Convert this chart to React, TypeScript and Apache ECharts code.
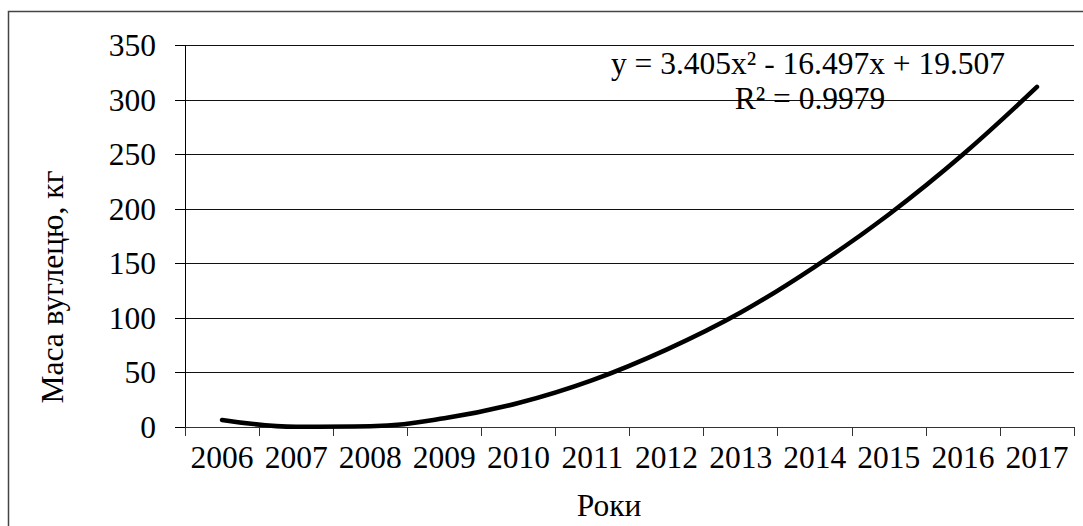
import React, { useEffect, useRef } from "react";
import * as echarts from "echarts";

const years = ["2006", "2007", "2008", "2009", "2010", "2011", "2012", "2013", "2014", "2015", "2016", "2017"];
const carbonMass = [6.5, 0.3, 0.7, 8, 22, 43, 71, 105, 147, 195, 250, 312];
const yTicks = { min: 0, max: 350, interval: 50 };
const yTitle = "Маса вуглецю, кг";
const xTitle = "Роки";
const equationLine = "y = 3.405x² - 16.497x + 19.507";
const r2Line = "R² = 0.9979";

const FONT = "'Times New Roman', 'Liberation Serif', serif";

export default function App() {
  const ref = useRef<HTMLDivElement>(null);
  useEffect(() => {
    if (!ref.current) return;
    const chart = echarts.init(ref.current, undefined, { renderer: "svg" });
    chart.setOption({
      animation: false,
      backgroundColor: "#ffffff",
      grid: { left: 185, right: 9, top: 45.5, bottom: 99, containLabel: false },
      xAxis: {
        type: "category",
        data: years,
        boundaryGap: true,
        axisLine: { show: true, lineStyle: { color: "#333", width: 1 } },
        axisTick: { show: true, length: 9, lineStyle: { color: "#333" } },
        axisLabel: { color: "#000", fontFamily: FONT, fontSize: 31.5, margin: 14, interval: 0 },
        splitLine: { show: false },
      },
      yAxis: {
        type: "value",
        min: yTicks.min,
        max: yTicks.max,
        interval: yTicks.interval,
        axisLine: { show: true, lineStyle: { color: "#000", width: 1 } },
        axisTick: { show: true, length: 10, lineStyle: { color: "#000" } },
        axisLabel: { color: "#000", fontFamily: FONT, fontSize: 31.5, margin: 29 },
        splitLine: { show: true, lineStyle: { color: "#111", width: 1 } },
      },
      series: [
        {
          type: "line",
          data: carbonMass,
          smooth: 0.4,
          symbol: "none",
          lineStyle: { color: "#000", width: 4.5, cap: "round" },
          z: 5,
        },
      ],
      graphic: [
        {
          type: "rect",
          shape: { x: 8.5, y: 11.5, width: 1100, height: 600 },
          style: { fill: "none", stroke: "#444", lineWidth: 1.5 },
          silent: true,
        },
        {
          type: "text",
          x: 52,
          y: 287,
          rotation: Math.PI / 2,
          style: { text: yTitle, font: `31.5px ${FONT}`, fill: "#000", align: "center", verticalAlign: "middle" },
        },
        {
          type: "text",
          x: 609,
          y: 505,
          style: { text: xTitle, font: `31.5px ${FONT}`, fill: "#000", align: "center", verticalAlign: "middle" },
        },
        {
          type: "text",
          x: 808,
          y: 63,
          z: 10,
          style: { text: equationLine, font: `31.5px ${FONT}`, fill: "#000", align: "center", verticalAlign: "middle" },
        },
        {
          type: "text",
          x: 810,
          y: 98,
          z: 10,
          style: { text: r2Line, font: `31.5px ${FONT}`, fill: "#000", align: "center", verticalAlign: "middle" },
        },
      ],
    });
    return () => chart.dispose();
  }, []);
  return (
    <div
      ref={ref}
      style={{ position: "absolute", left: 0, top: 0, width: 1083, height: 526 }}
    />
  );
}
